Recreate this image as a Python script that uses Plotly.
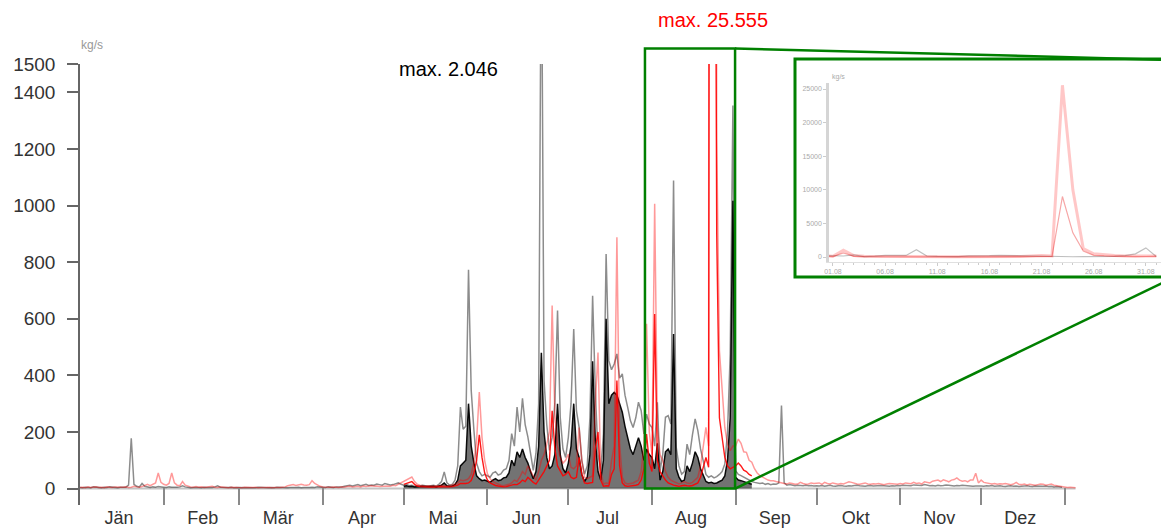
import numpy as np
import pandas as pd
import plotly.graph_objects as go

START = pd.Timestamp("2013-01-01")

# Daily maximum discharge (kg/s), one value per day from 1 January
black_peak = [
    4, 3, 5, 4, 3, 6, 5, 4, 3, 5, 4, 6, 5, 4, 3, 5, 6, 5, 12, 178, 15, 8, 6, 18, 8, 5, 4, 6, 5, 7, 5,           # Jan
    5, 4, 6, 5, 4, 5, 6, 10, 6, 4, 3, 4, 5, 4, 3, 5, 4, 3, 4, 6, 10, 5, 4, 3, 4, 5, 3, 4,                       # Feb
    4, 3, 4, 3, 2, 4, 3, 5, 4, 3, 2, 3, 4, 3, 5, 4, 3, 2, 3, 4, 3, 4, 5, 3, 4, 3, 4, 5, 4, 6, 5,                # Mar
    5, 4, 6, 5, 4, 6, 5, 6, 8, 10, 12, 9, 11, 14, 10, 12, 15, 11, 13, 12, 16, 14, 12, 18, 15, 13, 14, 17, 20, 15,  # Apr
    12, 15, 10, 12, 8, 10, 9, 12, 10, 8, 10, 12, 9, 15, 25, 59, 20, 12, 15, 30,
    80, 288, 210, 220, 773, 347, 206, 90, 60, 45, 50,                                                           # Mai
    45, 40, 55, 60, 48, 52, 65, 70, 99, 194, 150, 288, 200, 319, 226, 183, 124, 64, 124, 300,
    2046, 382, 226, 135, 180, 300, 629, 252, 140, 110,                                                          # Jun
    181, 300, 564, 275, 216, 100, 51, 80, 250, 681, 346, 120, 63, 193, 829, 452, 420, 440, 476, 390,
    405, 330, 287, 240, 216, 250, 305, 275, 193, 263, 228,                                                      # Jul
    216, 150, 305, 63, 120, 252, 258, 228, 1088, 146, 80, 51, 60, 157, 120, 190, 246, 205, 140, 98,
    50, 40, 45, 38, 42, 50, 60, 87, 200, 475, 1353,                                                             # Aug
    63, 50, 46, 40, 35, 30, 25, 22, 20, 18, 20, 15, 18, 14, 16, 15, 20, 293, 20, 12,
    14, 12, 10, 12, 11, 10, 12, 10, 11, 9,                                                                      # Sep
    10, 9, 11, 8, 10, 12, 9, 8, 10, 11, 9, 8, 10, 9, 11, 12, 10, 9, 8, 10, 11, 9, 10, 12, 11, 10, 9, 8, 10, 9, 11,  # Okt
    10, 12, 11, 9, 10, 13, 12, 10, 11, 14, 12, 10, 11, 9, 12, 10, 11, 13, 12, 10, 9, 11, 10, 12, 11, 9, 10, 8, 9, 10,  # Nov
    9, 8, 10, 9, 11, 8, 9, 10, 8, 7, 9, 10, 8, 9, 7, 8, 9, 10, 8, 7, 9, 8, 7, 8, 9, 7, 8, 6, 7, 6, 5,           # Dez
]

red_peak = [
    4, 5, 3, 6, 4, 5, 6, 4, 5, 3, 6, 5, 4, 6, 5, 4, 5, 6, 4, 5, 8, 6, 5, 7, 12, 15, 10, 14, 20, 55, 22,         # Jan
    15, 12, 18, 55, 20, 12, 10, 25, 12, 8, 6, 5, 7, 5, 6, 4, 5, 6, 8, 5, 4, 6, 5, 4, 3, 5, 4, 3,                # Feb
    4, 3, 5, 4, 3, 4, 5, 3, 4, 3, 4, 5, 3, 4, 3, 4, 5, 6, 10, 12, 14, 11, 12, 15, 13, 12, 14, 28, 18, 12, 8,    # Mar
    6, 5, 4, 5, 6, 5, 4, 6, 5, 7, 8, 6, 7, 8, 6, 9, 7, 8, 10, 8, 9, 7, 8, 10, 9, 8, 12, 10, 15, 20,             # Apr
    25, 30, 35, 41, 25, 15, 12, 10, 8, 10, 9, 8, 10, 9, 12, 10, 8, 10, 12, 15,
    20, 30, 28, 30, 35, 50, 90, 170, 341, 181, 99,                                                              # Mai
    53, 35, 25, 20, 15, 12, 10, 12, 15, 20, 30, 25, 40, 60, 50, 80, 60, 45, 30, 60,
    99, 120, 157, 200, 647, 264, 150, 110, 90, 100,                                                             # Jun
    122, 75, 70, 80, 216, 98, 40, 35, 40, 45, 299, 481, 60, 16, 20, 18, 98, 150, 888, 157,
    40, 20, 16, 18, 20, 25, 30, 60, 150, 582, 200,                                                              # Jul
    120, 1006, 216, 120, 98, 60, 40, 30, 25, 20, 16, 20, 25, 20, 18, 22, 30, 40, 80, 157,
    216, 150, 25555, 10000, 1235, 487, 334, 216, 157, 134, 150,                                                 # Aug
    150, 175, 160, 130, 128, 100, 93, 70, 55, 46, 40, 34, 30, 28, 28, 25, 22, 20, 18, 16,
    20, 18, 15, 16, 22, 18, 15, 16, 20, 18,                                                                     # Sep
    18, 20, 15, 22, 18, 16, 20, 17, 15, 18, 16, 20, 24, 22, 18, 16, 15, 18, 20, 16,
    15, 17, 16, 18, 15, 14, 16, 18, 17, 16, 15,                                                                 # Okt
    18, 16, 20, 18, 17, 22, 18, 20, 16, 24, 22, 20, 26, 28, 30, 25, 31, 28, 24, 30,
    32, 38, 30, 26, 28, 24, 30, 30, 54, 20,                                                                     # Nov
    30, 22, 20, 18, 16, 18, 15, 17, 16, 18, 15, 14, 16, 22, 15, 14, 16, 13, 15, 14,
    12, 14, 16, 15, 12, 14, 16, 12, 10, 8, 6,                                                                   # Dez
    5, 4, 5, 4, 3,                                                                                              # Jän (Folgejahr)
]

# Daily mean discharge (kg/s) for the wet season, 1 May to 7 September
MEAN_FIRST_DAY = 120
black_mean = [
    8, 10, 7, 8, 6, 7, 6, 8, 7, 6, 7, 8, 6, 9, 12, 20, 10, 8, 9, 15, 30,
    80, 90, 100, 300, 150, 90, 45, 35, 28, 30,
    25, 22, 30, 35, 28, 30, 38, 40, 55, 100, 80, 130, 110, 140, 110, 90, 60, 35, 60, 150,
    480, 200, 110, 70, 80, 120, 300, 120, 70, 55,
    90, 150, 300, 140, 110, 50, 25, 40, 120, 450, 170, 60, 30, 100, 600, 300, 330, 340, 330, 300,
    270, 220, 180, 140, 120, 150, 180, 150, 100, 140, 120,
    110, 70, 160, 30, 60, 130, 140, 120, 546, 70, 40, 25, 30, 80, 60, 90, 130, 110, 70, 50,
    25, 20, 22, 18, 20, 25, 30, 45, 100, 250, 1017,
    40, 30, 28, 24, 20, 18, 15,
]
red_mean = [
    15, 18, 20, 25, 15, 9, 7, 6, 5, 6, 5, 5, 6, 5, 7, 6, 5, 6, 7, 9, 12,
    18, 17, 18, 20, 28, 55, 100, 190, 110, 55,
    30, 20, 14, 11, 9, 7, 6, 7, 9, 12, 15, 14, 20, 30, 25, 40, 30, 22, 16, 30,
    45, 60, 80, 100, 275, 140, 80, 60, 45, 50,
    60, 40, 35, 40, 110, 50, 20, 18, 20, 22, 140, 200, 30, 8, 10, 9, 50, 70, 382, 80,
    20, 10, 8, 9, 10, 12, 15, 30, 70, 193, 90,
    60, 617, 100, 60, 45, 30, 20, 15, 12, 10, 8, 10, 12, 10, 9, 11, 15, 20, 40, 80,
    110, 75, 9000, 3600, 900, 250, 170, 110, 80, 70, 75,
    80, 90, 80, 65, 60, 50, 45,
]

month_names = ["Jän", "Feb", "Mär", "Apr", "Mai", "Jun", "Jul", "Aug", "Sep", "Okt", "Nov", "Dez"]
y_ticks = [0, 200, 400, 600, 800, 1000, 1200, 1400, 1500]
inset_x_labels = ["01.08", "06.08", "11.08", "16.08", "21.08", "26.08", "31.08"]
inset_y_ticks = [0, 5000, 10000, 15000, 20000, 25000]


def day_dates(first_day, n):
    return START + pd.to_timedelta(np.arange(first_day, first_day + n), unit="D")


def day(d):
    return START + pd.Timedelta(days=d)


def de_number(v):
    return f"{v:,}".replace(",", ".")


FONT = "Liberation Sans, Arial, sans-serif"
GREEN = "#008000"

# axis ranges
X_RANGE = (0.0, 400.67)        # days since 1 January
Y_RANGE = (-58.0, 1500.0)      # kg/s
INSET_X_RANGE = (211.62, 243.45)
INSET_Y_RANGE = (-744.0, 25893.0)


def px_main(d):
    return (d - X_RANGE[0]) / (X_RANGE[1] - X_RANGE[0])


def py_main(v):
    return (v - Y_RANGE[0]) / (Y_RANGE[1] - Y_RANGE[0])


bp_dates = day_dates(0, len(black_peak))
rp_dates = day_dates(0, len(red_peak))
bm_dates = day_dates(MEAN_FIRST_DAY, len(black_mean))
rm_dates = day_dates(MEAN_FIRST_DAY, len(red_mean))

fig = go.Figure()

# main panel: daily maxima (translucent) and daily means (solid)
fig.add_trace(go.Scatter(x=bp_dates, y=black_peak, mode="lines",
                         line=dict(color="rgba(0,0,0,0.45)", width=1.5)))
fig.add_trace(go.Scatter(x=bm_dates, y=black_mean, mode="lines",
                         line=dict(color="rgba(0,0,0,0.95)", width=1.5),
                         fill="tozeroy", fillcolor="rgba(0,0,0,0.55)"))
fig.add_trace(go.Scatter(x=rp_dates, y=red_peak, mode="lines",
                         line=dict(color="rgba(255,0,0,0.40)", width=1.5)))
fig.add_trace(go.Scatter(x=rm_dates, y=red_mean, mode="lines",
                         line=dict(color="rgba(255,0,0,0.9)", width=1.4)))

# inset: August on its own scale
aug0, aug1 = 211, 244
in_b = slice(aug0, aug1)
fig.add_trace(go.Scatter(x=bp_dates[in_b], y=black_peak[in_b], mode="lines",
                         line=dict(color="rgba(0,0,0,0.25)", width=1.2),
                         xaxis="x3", yaxis="y3"))
fig.add_trace(go.Scatter(x=rp_dates[in_b], y=red_peak[in_b], mode="lines",
                         line=dict(color="rgba(255,0,0,0.22)", width=3),
                         xaxis="x3", yaxis="y3"))
m_in = slice(aug0 - MEAN_FIRST_DAY, aug1 - MEAN_FIRST_DAY)
fig.add_trace(go.Scatter(x=rm_dates[m_in], y=red_mean[m_in], mode="lines",
                         line=dict(color="rgba(230,0,0,0.35)", width=1.2),
                         xaxis="x3", yaxis="y3"))

month_starts = [day(d) for d in (31, 59, 90, 120, 151, 181, 212, 243, 273, 304, 334, 365)]
month_mids = [START + pd.DateOffset(months=i) + pd.Timedelta(days=14.5) for i in range(12)]

shapes = [
    # zero line
    dict(type="line", xref="x", yref="y", x0=day(0), x1=day(369), y0=0, y1=0,
         line=dict(color="#c4c4c4", width=2), layer="below"),
    # inset frame
    dict(type="rect", xref="paper", yref="paper",
         x0=(795 - 80) / 1081, x1=(1175 - 80) / 1081, y0=(505 - 277) / 441, y1=(505 - 59) / 441,
         line=dict(color=GREEN, width=3), fillcolor="white", layer="below"),
    # zoomed window: August
    dict(type="rect", xref="paper", yref="paper",
         x0=px_main(209.4), x1=px_main(242.8), y0=py_main(0), y1=py_main(1555),
         line=dict(color=GREEN, width=2.5)),
    # connectors from window to inset
    dict(type="line", xref="paper", yref="paper",
         x0=px_main(242.8), y0=py_main(1555), x1=(1175 - 80) / 1081, y1=(505 - 60) / 441,
         line=dict(color=GREEN, width=2.5)),
    dict(type="line", xref="paper", yref="paper",
         x0=px_main(242.8), y0=py_main(0), x1=(1175 - 80) / 1081, y1=(505 - 277) / 441,
         line=dict(color=GREEN, width=2.5)),
]

annotations = [
    dict(text="kg/s", xref="paper", yref="paper", x=(92 - 80) / 1081, y=(505 - 45) / 441,
         xanchor="center", yanchor="middle", showarrow=False,
         font=dict(family=FONT, size=12, color="#999")),
    dict(text=f"max. {de_number(max(black_peak))}", xref="paper", yref="paper",
         x=(397 - 80) / 1081, y=(505 - 69) / 441, xanchor="left", yanchor="middle",
         showarrow=False, font=dict(family=FONT, size=20, color="black")),
    dict(text=f"max. {de_number(max(red_peak))}", xref="paper", yref="paper",
         x=(656 - 80) / 1081, y=(505 - 20) / 441, xanchor="left", yanchor="middle",
         showarrow=False, font=dict(family=FONT, size=20, color="red")),
    dict(text="kg/s", xref="paper", yref="paper", x=(838 - 80) / 1081, y=(505 - 77) / 441,
         xanchor="center", yanchor="middle", showarrow=False,
         font=dict(family=FONT, size=7, color="#aaa")),
]

fig.update_layout(
    width=1161, height=528,
    margin=dict(l=80, r=0, t=64, b=23),
    paper_bgcolor="white", plot_bgcolor="rgba(0,0,0,0)",
    showlegend=False, hovermode=False,
    font=dict(family=FONT, color="#333"),
    xaxis=dict(type="date", domain=[0, 1], range=[day(X_RANGE[0]), day(X_RANGE[1])],
               tickmode="array", tickvals=month_mids, ticktext=month_names, ticks="",
               tickfont=dict(size=18, color="#333"), showgrid=False, zeroline=False,
               showline=False,
               minor=dict(tickmode="array", tickvals=month_starts, ticks="inside",
                          ticklen=17, tickwidth=1.5, tickcolor="#8a8a8a", showgrid=False)),
    yaxis=dict(range=list(Y_RANGE), tickmode="array", tickvals=y_ticks,
               ticktext=[str(v) for v in y_ticks], ticks="outside", ticklen=11,
               tickwidth=1.5, tickcolor="#666", showline=True, linecolor="#666",
               linewidth=1.5, showgrid=False, zeroline=False, ticklabelstandoff=8,
               tickfont=dict(size=19, color="#333")),
    xaxis3=dict(type="date", domain=[(829 - 80) / 1081, 1.0], anchor="y3",
                range=[day(INSET_X_RANGE[0]), day(INSET_X_RANGE[1])],
                tickmode="array", tickvals=[day(212 + 5 * i) for i in range(7)],
                ticktext=inset_x_labels, ticks="outside", ticklen=3, tickcolor="#ccc",
                tickfont=dict(size=7, color="#aaa"), showgrid=False, zeroline=False,
                showline=True, linecolor="#e0e0e0", linewidth=1,
                minor=dict(tickmode="array", tickvals=[day(d) for d in range(212, 244)],
                           ticks="outside", ticklen=2, tickcolor="#ccc")),
    yaxis3=dict(domain=[(505 - 262) / 441, (505 - 83) / 441], anchor="x3",
                range=list(INSET_Y_RANGE), tickmode="array", tickvals=inset_y_ticks,
                ticktext=[str(v) for v in inset_y_ticks],
                ticks="outside", ticklen=3, tickcolor="#ccc",
                tickfont=dict(size=7, color="#aaa"), showgrid=False, zeroline=False,
                showline=True, linecolor="#d5d5d5", linewidth=2.5),
    shapes=shapes,
    annotations=annotations,
)

fig.write_html("out.html")
